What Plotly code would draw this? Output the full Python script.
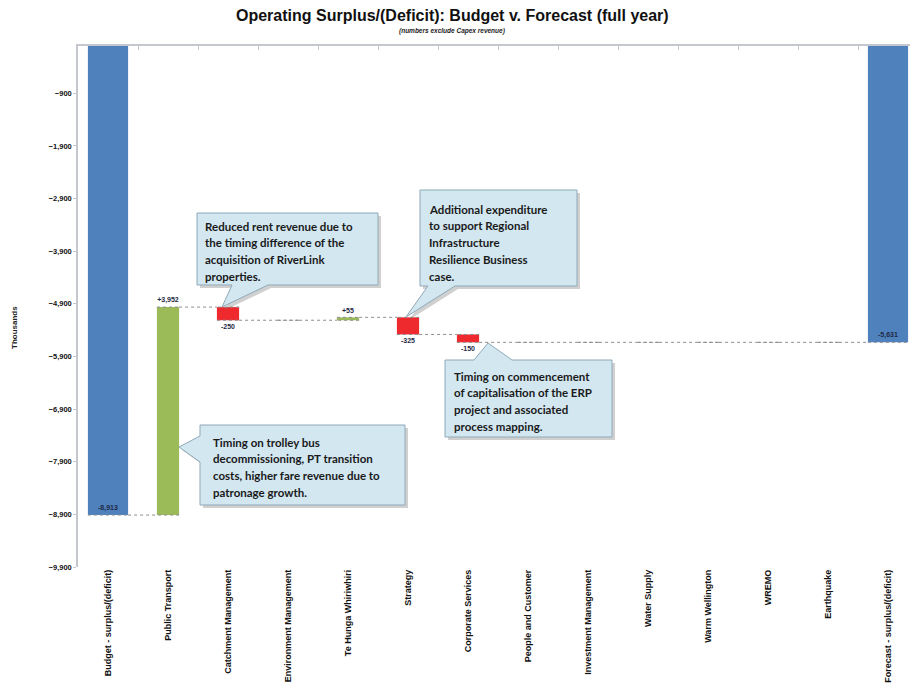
import plotly.graph_objects as go

# Operating surplus/(deficit) bridge, thousands
categories = [
    "Budget - surplus/(deficit)", "Public Transport", "Catchment Management",
    "Environment Management", "Te Hunga Whiriwhiri", "Strategy",
    "Corporate Services", "People and Customer", "Investment Management",
    "Water Supply", "Warm Wellington", "WREMO", "Earthquake",
    "Forecast - surplus/(deficit)",
]
budget = -8913
changes = [3952, -250, 0, 55, -325, -150, 0, 0, 0, 0, 0, 0]
forecast = budget + sum(changes)

measures = ["absolute"] + ["relative"] * len(changes) + ["total"]
values = [budget] + changes + [0]


def fmt(v, signed):
    s = f"{v:,}"
    return ("+" + s) if (signed and v > 0) else s


labels = [fmt(budget, False)] + [fmt(c, True) if c else "" for c in changes] + [fmt(forecast, False)]
positions = ["inside"] + ["outside"] * len(changes) + ["inside"]
widths = [0.67] + [0.37] * len(changes) + [0.67]

BLUE = "#4F81BD"
GREEN = "#9BBB59"
RED = "#EE2A2E"
AXIS = "#C4C8CE"
TXT = "#1F2A44"
NARROW = "Liberation Sans Narrow, Arial Narrow, Arial"

# plot frame in pixels
L, R, T, B = 78, 910, 46, 567
W, H = 910, 690


def px(x, y):
    return (x - L) / (R - L), (B - y) / (B - T)


fig = go.Figure()
fig.add_trace(go.Waterfall(
    x=categories, y=values, measure=measures, width=widths,
    text=labels, textposition=positions, insidetextanchor="end",
    textfont=dict(family=NARROW, size=7, color=TXT, weight="bold"),
    insidetextfont=dict(family=NARROW, size=7, color=TXT, weight="bold"),
    outsidetextfont=dict(family=NARROW, size=7, color=TXT, weight="bold"),
    totals=dict(marker=dict(color=BLUE)),
    increasing=dict(marker=dict(color=GREEN)),
    decreasing=dict(marker=dict(color=RED)),
    connector=dict(mode="spanning", line=dict(color="#8C8C8C", width=1, dash="dot")),
    cliponaxis=False, showlegend=False,
))
# carrier trace for the category axis line along the top of the frame
fig.add_trace(go.Scatter(x=categories, y=[None] * len(categories), xaxis="x2",
                         mode="markers", showlegend=False, hoverinfo="skip"))

# callout boxes: (box x0, y0, x1, y1, tail polygon, text lines, text x, first line y)
callouts = [
    (197, 213, 378, 285, [(268, 285), (222, 307), (232, 285)],
     ["Reduced rent revenue due to", "the timing difference of the",
      "acquisition of RiverLink", "properties."], 203, 226),
    (420, 190, 577, 286, [(455, 286), (406, 317), (428, 286)],
     ["Additional expenditure", "to support Regional", "Infrastructure",
      "Resilience Business", "case."], 427, 209),
    (445, 360, 612, 437, [(474, 360), (488, 343), (512, 360)],
     ["Timing on commencement", "of capitalisation of the ERP",
      "project and associated", "process mapping."], 452, 376),
    (200, 425, 405, 505, [(200, 436), (179, 447), (200, 462)],
     ["Timing on trolley bus", "decommissioning, PT transition",
      "costs, higher fare revenue due to", "patronage growth."], 211, 442),
]


def callout_path(x0, y0, x1, y1, tail, dx=0, dy=0):
    # walk the box edge, splicing the tail in on the edge it sits on
    if tail[0][1] == y0:
        pts = [(x0, y0)] + tail + [(x1, y0), (x1, y1), (x0, y1)]
    elif tail[0][1] == y1:
        pts = [(x0, y0), (x1, y0), (x1, y1)] + tail + [(x0, y1)]
    else:
        pts = [(x0, y0), (x1, y0), (x1, y1), (x0, y1)] + list(reversed(tail))
    d = ""
    for i, (x, y) in enumerate(pts):
        u, v = px(x + dx, y + dy)
        d += ("M" if i == 0 else "L") + f"{u:.5f},{v:.5f} "
    return d + "Z"


shapes = []
annotations = []
for x0, y0, x1, y1, tail, lines, tx, ty in callouts:
    shapes.append(dict(type="path", xref="paper", yref="paper",
                       path=callout_path(x0, y0, x1, y1, tail, 3, 3),
                       fillcolor="rgba(120,120,120,0.35)", line=dict(width=0), layer="above"))
    shapes.append(dict(type="path", xref="paper", yref="paper",
                       path=callout_path(x0, y0, x1, y1, tail),
                       fillcolor="#D3E7F1", line=dict(color="#8FA9B8", width=1), layer="above"))
    for i, line in enumerate(lines):
        u, v = px(tx, ty + i * 16.8)
        annotations.append(dict(xref="paper", yref="paper", x=u, y=v, text=line,
                                showarrow=False, xanchor="left", yanchor="middle",
                                font=dict(family="Lato, Open Sans", size=11.5, color="#1A1A1A",
                                          weight="bold")))

annotations.append(dict(xref="paper", yref="paper", x=px(452, 0)[0], y=px(0, 16)[1],
                        text="Operating Surplus/(Deficit): Budget v. Forecast (full year)",
                        showarrow=False, xanchor="center", yanchor="middle",
                        font=dict(family=NARROW, size=16, color="#111111", weight="bold")))
annotations.append(dict(xref="paper", yref="paper", x=px(452, 0)[0], y=px(0, 31)[1],
                        text="<i>(numbers exclude Capex revenue)</i>",
                        showarrow=False, xanchor="center", yanchor="middle",
                        font=dict(family=NARROW, size=6.5, color="#222222", weight="bold")))
annotations.append(dict(xref="paper", yref="paper", x=px(15, 0)[0], y=px(0, 328)[1],
                        text="Thousands", textangle=-90, showarrow=False,
                        xanchor="center", yanchor="middle",
                        font=dict(family=NARROW, size=8, color="#222222", weight="bold")))

xr = [-0.5, -0.5 + (R - L) / 60]
fig.update_layout(
    width=W, height=H, margin=dict(l=L, r=W - R, t=T, b=H - B),
    paper_bgcolor="white", plot_bgcolor="white",
    shapes=shapes, annotations=annotations,
    xaxis=dict(type="category", range=xr, showline=False, ticks="", showgrid=False,
               tickangle=-90, automargin=False,
               tickfont=dict(family=NARROW, size=9, color="#111111", weight="bold")),
    xaxis2=dict(type="category", range=xr, overlaying="x", side="top", showline=True,
                linecolor=AXIS, linewidth=1.5, ticks="inside", tickson="boundaries",
                ticklen=4, tickcolor=AXIS, showticklabels=False, showgrid=False,
                automargin=False),
    yaxis=dict(range=[-9900, 0], tick0=-900, dtick=1000, tickformat=",d",
               showline=True, linecolor=AXIS, linewidth=1.5, ticks="outside",
               ticklen=3, tickcolor=AXIS, showgrid=False, zeroline=False,
               automargin=False,
               tickfont=dict(family=NARROW, size=7.5, color="#111111", weight="bold")),
)

fig.write_html("out.html")
